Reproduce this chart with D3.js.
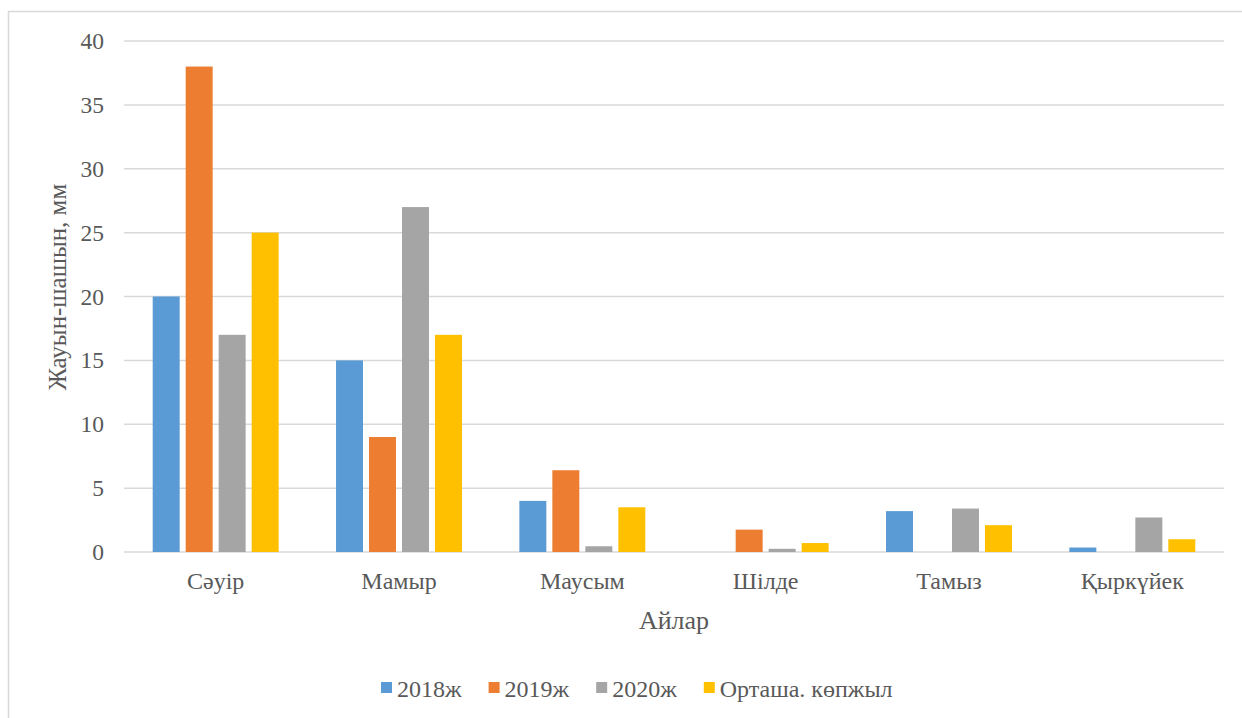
<!DOCTYPE html>
<html>
<head>
<meta charset="utf-8">
<script src="https://cdn.jsdelivr.net/npm/d3@7"></script>
<style>
  html, body { margin: 0; padding: 0; background: #fff; }
  svg { display: block; }
  svg text { font-family: "Liberation Serif", "Times New Roman", "DejaVu Serif", serif; fill: #595959; }
</style>
</head>
<body>
<div id="chart"></div>
<script>
// Monthly precipitation, mm
const months = ["Сәуір", "Мамыр", "Маусым", "Шілде", "Тамыз", "Қыркүйек"];
const seriesNames = ["2018ж", "2019ж", "2020ж", "Орташа. көпжыл"];
const colors = ["#5b9bd5", "#ed7d31", "#a5a5a5", "#ffc000"];
const v2018 = [20, 15, 4, 0, 3.2, 0.35];
const v2019 = [38, 9, 6.4, 1.75, 0, 0];
const v2020 = [17, 27, 0.45, 0.25, 3.4, 2.7];
const vAvg  = [25, 17, 3.5, 0.7, 2.1, 1.0];
const yTicks = [0, 5, 10, 15, 20, 25, 30, 35, 40];

const seriesValues = [v2018, v2019, v2020, vAvg];

const W = 1242, H = 718;
const margin = { left: 124, right: 18, top: 41, bottom: 166 };
const plotW = W - margin.left - margin.right;
const plotH = H - margin.top - margin.bottom;

const svg = d3.select("#chart").append("svg")
  .attr("width", W).attr("height", H);

// chart frame
svg.append("rect")
  .attr("x", 8.5).attr("y", 11.5)
  .attr("width", 1260).attr("height", 720)
  .attr("fill", "none").attr("stroke", "#d9d9d9").attr("stroke-width", 1.5);

const g = svg.append("g").attr("transform", `translate(${margin.left},${margin.top})`);

const x0 = d3.scaleBand().domain(months).range([0, plotW]).paddingInner(0.313).paddingOuter(0.1565);
const x1 = d3.scaleBand().domain(seriesNames).range([0, x0.bandwidth()]).paddingInner(0.182);
const y = d3.scaleLinear().domain([0, 40]).range([plotH, 0]);

// gridlines
g.append("g").selectAll("line").data(yTicks).join("line")
  .attr("x1", 0).attr("x2", plotW)
  .attr("y1", d => y(d)).attr("y2", d => y(d))
  .attr("stroke", "#d9d9d9").attr("stroke-width", 1.5);

// y tick labels
const yAxis = d3.axisLeft(y).tickValues(yTicks).tickSize(0).tickPadding(20);
const ya = g.append("g").call(yAxis);
ya.select(".domain").remove();
ya.attr("font-family", null);
ya.selectAll("text").attr("font-size", 23.5).attr("fill", "#595959");

// bars
const groups = g.append("g").selectAll("g").data(months).join("g")
  .attr("transform", d => `translate(${x0(d)},0)`);
groups.selectAll("rect")
  .data((m, i) => seriesNames.map((s, k) => ({ s, k, v: seriesValues[k][i] })))
  .join("rect")
  .attr("x", d => x1(d.s))
  .attr("width", x1.bandwidth())
  .attr("y", d => y(d.v))
  .attr("height", d => y(0) - y(d.v))
  .attr("fill", d => colors[d.k]);

// x category labels
const xAxis = d3.axisBottom(x0).tickSize(0).tickPadding(20);
const xa = g.append("g").attr("transform", `translate(0,${plotH})`).call(xAxis);
xa.select(".domain").remove();
xa.attr("font-family", null);
xa.selectAll("text").attr("font-size", 24).attr("fill", "#595959");

// axis titles
svg.append("text")
  .attr("x", 674).attr("y", 629)
  .attr("text-anchor", "middle")
  .attr("font-size", 26)
  .text("Айлар");

svg.append("text")
  .attr("transform", "translate(66,287) rotate(-90)")
  .attr("text-anchor", "middle")
  .attr("font-size", 25)
  .text("Жауын-шашын, мм");

// legend
const legend = svg.append("g");
let lx = 381;
seriesNames.forEach((name, k) => {
  const item = legend.append("g").attr("transform", `translate(${lx},0)`);
  item.append("rect").attr("x", 0).attr("y", 682).attr("width", 11).attr("height", 11)
    .attr("fill", colors[k]);
  const t = item.append("text").attr("x", 16).attr("y", 697)
    .attr("font-size", 24)
    .text(name);
  lx += 16 + t.node().getComputedTextLength() + 27;
});
</script>
</body>
</html>
